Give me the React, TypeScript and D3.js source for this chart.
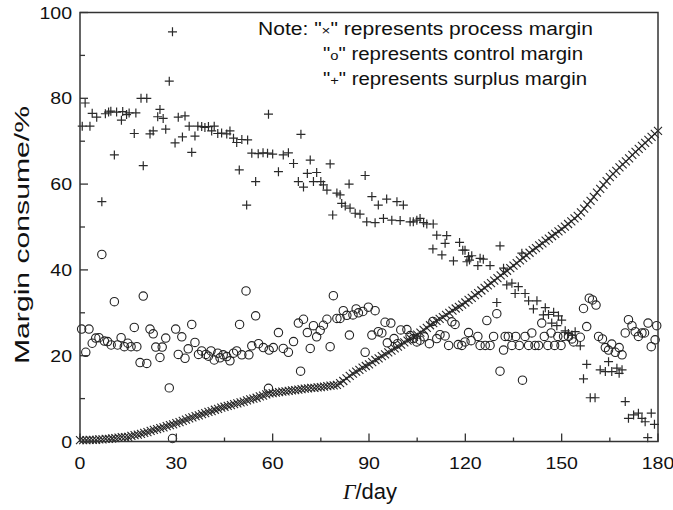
import React from "react";
import * as d3 from "d3";

// ---- data ----
// process margin (×), one value per day 0..180
const processValues: number[] = [
  0.3, 0.3, 0.3, 0.4, 0.4, 0.4, 0.5, 0.5, 0.6, 0.6,
  0.7, 0.8, 0.9, 1.0, 1.0, 1.1, 1.3, 1.5, 1.6, 1.8,
  2.0, 2.2, 2.5, 2.7, 2.9, 3.1, 3.3, 3.6, 3.8, 4.0,
  4.3, 4.5, 4.8, 5.1, 5.4, 5.6, 5.9, 6.1, 6.4, 6.6,
  6.9, 7.1, 7.4, 7.6, 7.9, 8.1, 8.3, 8.5, 8.7, 8.9,
  9.1, 9.3, 9.6, 9.8, 10.0, 10.2, 10.5, 10.7, 11.0, 11.2,
  11.3, 11.4, 11.5, 11.6, 11.7, 11.8, 11.9, 12.0, 12.1, 12.2,
  12.3, 12.4, 12.5, 12.5, 12.6, 12.7, 12.8, 12.9, 13.0, 13.1,
  13.2, 13.6, 14.1, 14.7, 15.3, 15.8, 16.3, 16.7, 17.2, 17.6,
  18.0, 18.5, 19.0, 19.4, 19.9, 20.3, 20.8, 21.2, 21.7, 22.1,
  22.6, 23.1, 23.5, 24.0, 24.4, 24.9, 25.4, 26.0, 26.5, 27.1,
  27.6, 28.1, 28.6, 29.0, 29.5, 30.0, 30.5, 31.0, 31.4, 31.9,
  32.4, 33.0, 33.5, 34.1, 34.6, 35.2, 35.8, 36.4, 36.9, 37.5,
  38.1, 38.7, 39.3, 39.8, 40.4, 41.0, 41.6, 42.2, 42.8, 43.4,
  44.0, 44.6, 45.1, 45.7, 46.2, 46.8, 47.3, 47.9, 48.4, 49.0,
  49.5, 50.1, 50.7, 51.3, 52.0, 52.6, 53.4, 54.3, 55.2, 56.1,
  57.0, 58.0, 58.9, 59.8, 60.7, 61.6, 62.4, 63.1, 63.9, 64.6,
  65.3, 66.0, 66.8, 67.5, 68.2, 68.9, 69.6, 70.3, 71.0, 71.7,
  72.4,
];

// control margin (o): [day, value]
const controlPoints: [number, number][] = [
  [0.5, 26.2], [1.8, 20.8], [2.8, 26.2], [3.8, 22.9], [4.9, 24.1], [5.9, 24.2], [6.8, 43.6], [7.6, 23.4],
  [8.6, 23.3], [9.7, 22.5], [10.7, 32.6], [11.7, 22.5], [12.8, 24.2], [13.8, 22.1], [14.9, 22.9], [15.9, 22.1],
  [16.9, 26.6], [17.7, 22.1], [18.7, 18.4], [19.7, 33.9], [20.8, 18.2], [21.8, 26.2], [22.8, 25.1], [23.6, 22.0],
  [24.9, 19.6], [25.6, 22.0], [26.7, 24.1], [27.8, 12.5], [28.8, 0.7], [29.8, 26.2], [30.6, 20.3], [31.7, 24.4],
  [32.7, 19.4], [33.7, 21.6], [34.8, 27.3], [35.8, 23.1], [36.9, 20.3], [37.9, 21.1], [39.2, 20.3], [40.0, 19.9],
  [40.8, 21.1], [41.8, 19.0], [42.9, 20.6], [43.6, 19.5], [44.6, 20.2], [45.7, 19.8], [46.7, 18.8], [47.8, 20.6],
  [48.8, 21.1], [49.7, 27.3], [50.4, 20.2], [51.7, 35.1], [52.6, 20.2], [53.5, 22.3], [54.7, 29.3], [55.6, 22.8],
  [57.1, 21.9], [58.7, 12.4], [58.9, 21.3], [60.2, 21.9], [61.8, 25.4], [63.3, 21.7], [64.9, 20.8], [66.5, 23.3],
  [68.0, 27.6], [68.7, 16.4], [69.6, 28.5], [70.8, 25.4], [71.7, 21.7], [72.7, 27.0], [73.7, 24.4], [74.8, 25.9],
  [75.8, 27.1], [76.9, 28.5], [77.9, 22.1], [78.9, 34.0], [80.0, 28.7], [81.0, 28.7], [82.0, 30.5], [83.1, 29.4],
  [83.9, 24.8], [85.0, 29.5], [86.0, 30.9], [86.7, 30.0], [88.1, 30.3], [88.8, 20.8], [89.8, 31.3], [90.9, 24.8],
  [91.9, 30.5], [92.9, 25.6], [94.0, 25.3], [95.0, 27.8], [95.7, 23.0], [96.8, 27.6], [97.8, 24.0], [98.9, 22.8],
  [99.9, 26.0], [101.8, 26.1], [102.8, 24.7], [103.8, 24.0], [104.9, 23.2], [105.9, 23.6], [107.2, 24.4], [108.8, 22.8],
  [109.9, 28.0], [111.1, 24.0], [112.1, 24.9], [113.7, 24.6], [114.8, 22.4], [115.8, 27.9], [116.8, 27.3], [117.8, 22.6],
  [118.9, 22.4], [119.9, 23.2], [121.0, 25.4], [121.8, 23.5], [123.9, 24.5], [124.6, 22.4], [126.2, 22.4], [126.7, 28.2],
  [127.7, 22.4], [128.8, 24.5], [129.8, 29.8], [130.8, 16.4], [131.9, 21.3], [132.4, 24.5], [133.4, 24.5], [134.5, 22.4],
  [135.7, 24.5], [136.8, 22.4], [137.8, 14.3], [138.6, 24.5], [139.7, 22.4], [140.7, 25.3], [141.7, 22.4], [142.8, 22.4],
  [143.8, 27.6], [144.6, 24.5], [145.7, 22.4], [146.7, 25.3], [147.8, 22.4], [148.8, 24.5], [149.8, 22.4], [150.6, 24.5],
  [152.1, 24.5], [153.2, 23.9], [153.7, 23.2], [155.8, 24.3], [156.8, 31.0], [157.8, 26.8], [158.6, 33.4], [159.6, 33.0],
  [160.7, 31.8], [161.5, 24.5], [162.7, 23.9], [163.6, 21.9], [164.6, 21.3], [165.6, 22.7], [166.7, 20.8], [167.9, 21.9],
  [168.8, 20.2], [169.8, 25.3], [170.8, 28.4], [171.9, 27.0], [172.9, 25.6], [173.9, 24.5], [175.0, 25.3], [175.8, 25.3],
  [176.9, 27.6], [177.9, 22.1], [179.1, 23.7], [179.6, 27.0],
];

// surplus margin (+): [day, value]
const surplusPoints: [number, number][] = [
  [0.7, 73.5], [1.6, 78.9], [3.1, 73.5], [3.8, 76.5], [5.2, 75.6], [6.8, 55.9], [7.9, 76.4], [8.9, 76.8],
  [9.6, 77.0], [10.7, 66.8], [11.4, 76.8], [12.9, 74.9], [13.3, 76.9], [14.5, 76.2], [15.3, 76.6], [16.9, 71.8],
  [17.4, 76.6], [19.0, 80.0], [19.7, 64.3], [20.8, 80.0], [21.8, 71.7], [22.8, 72.4], [24.2, 75.7], [24.9, 77.4],
  [25.9, 75.3], [26.7, 72.8], [27.8, 84.0], [28.8, 95.5], [29.6, 69.6], [30.6, 75.6], [31.9, 71.0], [32.7, 75.9],
  [34.0, 73.5], [34.8, 67.4], [35.8, 71.2], [36.7, 73.5], [37.9, 73.4], [38.9, 73.2], [40.0, 73.4], [41.0, 72.4],
  [41.8, 73.5], [42.9, 71.8], [44.1, 71.9], [45.7, 71.7], [46.7, 72.4], [47.8, 70.7], [48.8, 69.7], [49.6, 63.3],
  [50.4, 70.4], [51.9, 55.1], [52.2, 70.3], [53.5, 67.2], [54.7, 60.6], [55.5, 67.1], [57.0, 67.3], [58.4, 67.2],
  [58.7, 76.3], [60.0, 67.0], [61.8, 62.9], [63.3, 66.8], [64.9, 67.3], [66.5, 64.8], [68.0, 60.6], [68.8, 71.6],
  [69.6, 59.3], [70.8, 62.5], [71.7, 65.6], [72.7, 60.6], [73.7, 62.7], [75.0, 60.6], [75.8, 59.8], [76.9, 58.6],
  [77.9, 64.7], [78.7, 52.8], [80.0, 57.9], [81.0, 57.5], [81.5, 55.5], [82.6, 54.9], [83.8, 60.0], [84.1, 54.4],
  [85.7, 53.2], [87.2, 53.0], [88.8, 62.0], [89.3, 51.2], [90.9, 57.1], [91.9, 51.0], [92.9, 55.1], [94.5, 52.0],
  [95.5, 56.5], [97.1, 51.6], [98.7, 55.9], [99.7, 51.5], [100.7, 55.1], [102.8, 51.2], [103.8, 51.2], [104.9, 51.6],
  [105.9, 52.0], [107.0, 51.0], [108.0, 50.7], [110.0, 50.7], [111.1, 48.1], [109.9, 44.9], [112.7, 43.5], [113.7, 46.2],
  [114.2, 48.0], [116.3, 42.1], [118.2, 46.4], [119.2, 44.6], [119.9, 44.6], [120.5, 41.9], [121.0, 43.1], [121.3, 42.3],
  [122.0, 43.3], [123.9, 41.0], [124.6, 42.7], [125.6, 42.5], [127.7, 41.0], [129.8, 32.4], [130.8, 45.6], [131.9, 40.4],
  [132.9, 36.5], [134.5, 36.9], [135.5, 34.5], [136.5, 36.1], [137.6, 43.9], [138.6, 34.5], [139.7, 32.8], [141.2, 30.9],
  [142.3, 32.8], [144.3, 29.5], [144.9, 31.2], [145.9, 29.6], [146.9, 27.6], [147.5, 30.1], [148.5, 27.0], [149.0, 29.3],
  [150.0, 28.3], [151.1, 25.8], [152.1, 25.2], [153.2, 24.8], [154.2, 25.6], [155.8, 22.3], [156.8, 14.6], [157.8, 18.0],
  [158.9, 10.2], [160.4, 10.2], [162.0, 16.7], [163.6, 16.3], [164.6, 18.6], [165.6, 16.3], [167.2, 17.1], [167.9, 15.9],
  [168.8, 16.7], [169.8, 9.3], [170.8, 5.4], [172.4, 6.2], [173.9, 6.6], [175.0, 5.4], [176.0, 4.6], [176.8, 0.9],
  [177.9, 6.6], [178.9, 4.0],
];

const xTicks = [0, 30, 60, 90, 120, 150, 180];
const xMinorTicks = [15, 45, 75, 105, 135, 165];
const yTicks = [0, 20, 40, 60, 80, 100];
const yMinorTicks = [10, 30, 50, 70, 90];
const noteLines = [
  { pre: "Note: \"", sym: "×", post: "\" represents process margin" },
  { pre: "\"", sym: "o", post: "\" represents control margin" },
  { pre: "\"", sym: "+", post: "\" represents surplus margin" },
];

const W = 673;
const H = 510;
const M = { left: 80, right: 658, top: 12.5, bottom: 441.5 };
const FONT = "'Liberation Sans', Arial, Helvetica, sans-serif";
const INK = "#222";

export default function App() {
  const x = d3.scaleLinear().domain([0, 180]).range([M.left, M.right]);
  const y = d3.scaleLinear().domain([0, 100]).range([M.bottom, M.top]);
  const processData = processValues.map((v, i) => [i, v] as [number, number]);

  const xs = 4;
  const ps = 4.5;
  const r = 4.2;

  return (
    <svg
      width={W}
      height={H}
      viewBox={`0 0 ${W} ${H}`}
      style={{ position: "absolute", left: 0, top: 0, background: "#fff" }}
    >
      <rect x={0} y={0} width={W} height={H} fill="#fff" />
      {/* process margin × */}
      <g stroke="#262626" strokeWidth={1.1} fill="none">
        {processData.map(([d, v], i) => {
          const cx = x(d), cy = y(v);
          return (
            <path
              key={"x" + i}
              d={`M${cx - xs},${cy - xs}L${cx + xs},${cy + xs}M${cx - xs},${cy + xs}L${cx + xs},${cy - xs}`}
            />
          );
        })}
      </g>
      {/* control margin o */}
      <g stroke={INK} strokeWidth={1.1} fill="none">
        {controlPoints.map(([d, v], i) => (
          <circle key={"o" + i} cx={x(d)} cy={y(v)} r={r} />
        ))}
      </g>
      {/* surplus margin + */}
      <g stroke="#2a2a2a" strokeWidth={1.2} fill="none">
        {surplusPoints.map(([d, v], i) => {
          const cx = x(d), cy = y(v);
          return (
            <path key={"p" + i} d={`M${cx - ps},${cy}H${cx + ps}M${cx},${cy - ps}V${cy + ps}`} />
          );
        })}
      </g>

      {/* frame */}
      <rect
        x={M.left}
        y={M.top}
        width={M.right - M.left}
        height={M.bottom - M.top}
        fill="none"
        stroke="#333"
        strokeWidth={1.5}
      />
      {/* ticks */}
      <g stroke="#333" strokeWidth={1.3}>
        {xTicks.map((t) => (
          <line key={"xt" + t} x1={x(t)} x2={x(t)} y1={M.bottom} y2={M.bottom - 8} />
        ))}
        {xMinorTicks.map((t) => (
          <line key={"xm" + t} x1={x(t)} x2={x(t)} y1={M.bottom} y2={M.bottom - 4} />
        ))}
        {yTicks.map((t) => (
          <line key={"yt" + t} x1={M.left} x2={M.left + 8} y1={y(t)} y2={y(t)} />
        ))}
        {yMinorTicks.map((t) => (
          <line key={"ym" + t} x1={M.left} x2={M.left + 5} y1={y(t)} y2={y(t)} />
        ))}
      </g>
      {/* tick labels */}
      <g fontFamily={FONT} fontSize={17} fill="#111">
        {xTicks.map((t) => (
          <text key={"xl" + t} transform={`translate(${x(t)},469) scale(1.15,1)`} textAnchor="middle">
            {t}
          </text>
        ))}
        {yTicks.map((t) => (
          <text
            key={"yl" + t}
            transform={`translate(72,${y(t) + 6}) scale(1.15,1)`}
            textAnchor="end"
          >
            {t}
          </text>
        ))}
      </g>
      {/* axis titles */}
      <text
        transform="translate(29,235) rotate(-90)"
        textAnchor="middle"
        fontFamily={FONT}
        fontSize={21}
        fill="#111"
        textLength={258}
        lengthAdjust="spacingAndGlyphs"
      >
        Margin consume/%
      </text>
      <text x={370} y={499} textAnchor="middle" fontFamily={FONT} fontSize={22} fill="#111">
        <tspan fontFamily="'Liberation Serif', 'Times New Roman', serif" fontStyle="italic">Γ</tspan>
        <tspan>/day</tspan>
      </text>
      {/* note */}
      <g fontFamily={FONT} fontSize={18} fill="#111">
        {noteLines.map((ln, i) => (
          <text
            key={"n" + i}
            x={i === 0 ? 258 : 323}
            y={35 + i * 25}
            textLength={i === 0 ? 335 : i === 1 ? 260 : 264}
            lengthAdjust="spacingAndGlyphs"
          >
            {ln.pre}
            <tspan fontSize={13}>{ln.sym}</tspan>
            {ln.post}
          </text>
        ))}
      </g>
    </svg>
  );
}
